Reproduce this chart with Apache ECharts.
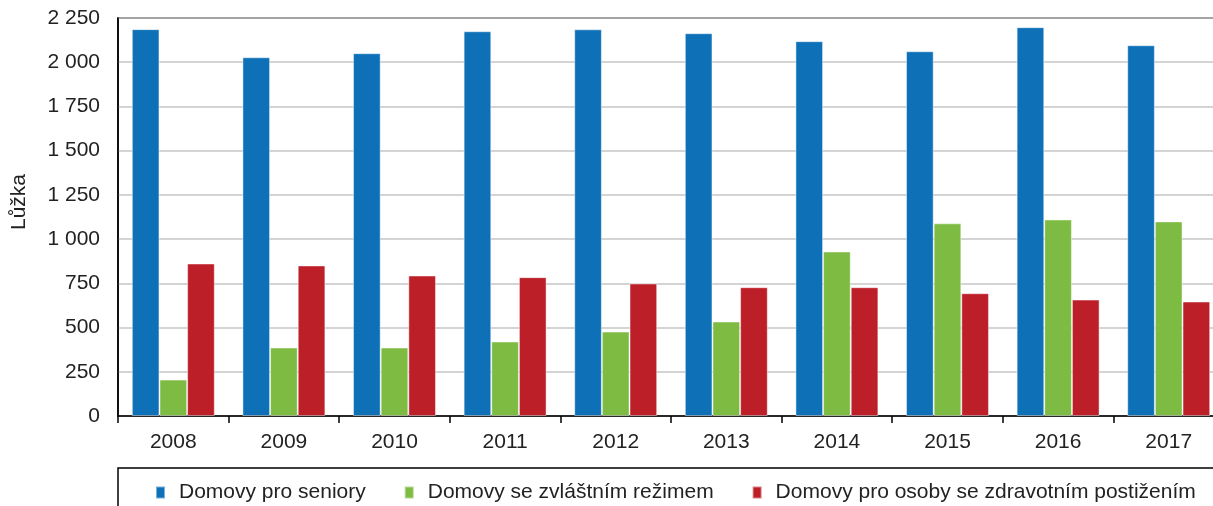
<!DOCTYPE html>
<html>
<head>
<meta charset="utf-8">
<script src="https://cdn.jsdelivr.net/npm/echarts@6/dist/echarts.min.js"></script>
<style>
  html, body { margin: 0; padding: 0; background: #fff; }
  #chart { width: 1213px; height: 506px; }
</style>
</head>
<body>
<div id="chart"></div>
<script>
// roky
const years = ['2008', '2009', '2010', '2011', '2012', '2013', '2014', '2015', '2016', '2017']
// lůžka podle typu zařízení
const seniory = [2187, 2028, 2051, 2175, 2186, 2164, 2119, 2062, 2198, 2096]
const zvlastniRezim = [206, 387, 387, 421, 477, 534, 930, 1089, 1111, 1100]
const postizeni = [862, 851, 794, 785, 749, 728, 728, 694, 658, 647]
const seriesNames = ['Domovy pro seniory', 'Domovy se zvláštním režimem', 'Domovy pro osoby se zdravotním postižením']
const colors = ['#0e71b8', '#7dbb42', '#bd1f29']

const font = "'Liberation Sans', Arial, sans-serif"

const myChart = echarts.init(document.getElementById('chart'))

// mezera jako oddělovač tisíců
function fmt(v) {
    return String(v).replace(/\B(?=(\d{3})+(?!\d))/g, ' ')
}

function bar(name, data, color) {
    return {
        name: name,
        type: 'bar',
        data: data,
        barGap: 0,
        barCategoryGap: '25%',
        itemStyle: { color: color, borderColor: 'rgba(255,255,255,0.45)', borderWidth: 1 }
    }
}

const option = {
    animation: false,
    color: colors,
    grid: {
        // graf je vpravo oříznutý
        left: 118, top: 18, width: 1106, height: 398,
        outerBoundsMode: 'none', containLabel: false,
        show: true, borderColor: '#000', borderWidth: 1.5, backgroundColor: 'transparent'
    },
    legend: {
        left: 155, top: 482, padding: 0,
        itemWidth: 9, itemHeight: 12, itemGap: 38,
        icon: 'rect',
        textStyle: { fontFamily: font, fontSize: 21, color: '#222', padding: [0, 0, 0, 9] },
        data: seriesNames
    },
    xAxis: {
        type: 'category',
        data: years,
        axisLine: { lineStyle: { color: '#000', width: 1.5 } },
        axisTick: { show: true, length: 7, lineStyle: { color: '#000', width: 1.5 } },
        axisLabel: { fontFamily: font, fontSize: 21, color: '#222', margin: 16 }
    },
    yAxis: {
        type: 'value',
        min: 0, max: 2250, interval: 250,
        axisLine: { show: true, lineStyle: { color: '#000', width: 1.5 } },
        axisTick: { show: false },
        splitLine: { lineStyle: { color: '#c6c6c6', width: 1.5 } },
        axisLabel: { fontFamily: font, fontSize: 21, color: '#222', margin: 18, formatter: fmt }
    },
    graphic: [
        {
            type: 'text', x: 19, y: 202, rotation: Math.PI / 2,
            style: { text: 'Lůžka', fontFamily: font, fontSize: 21, fill: '#222', align: 'center', verticalAlign: 'middle' }
        },
        {
            type: 'rect', shape: { x: 118, y: 468, width: 1200, height: 100 },
            style: { fill: 'none', stroke: '#000', lineWidth: 1.5 }
        }
    ],
    series: [
        bar(seriesNames[0], seniory, colors[0]),
        bar(seriesNames[1], zvlastniRezim, colors[1]),
        bar(seriesNames[2], postizeni, colors[2])
    ]
}

myChart.setOption(option)
</script>
</body>
</html>
